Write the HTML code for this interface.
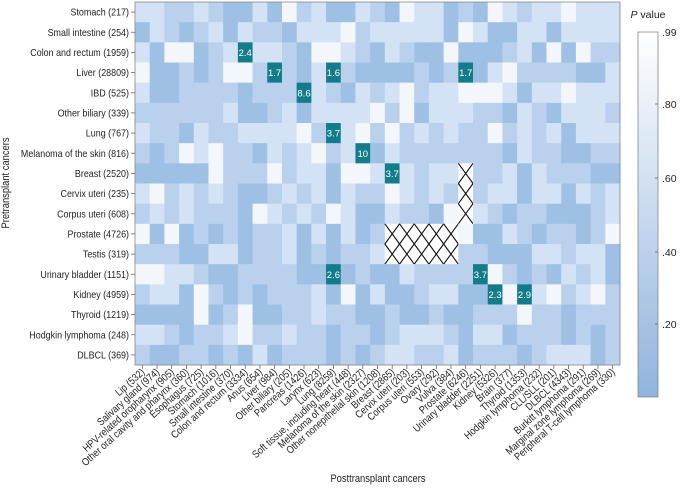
<!DOCTYPE html>
<html><head><meta charset="utf-8"><style>
body{margin:0;background:#fff;}
svg{display:block;font-family:"Liberation Sans",sans-serif;}
</style></head><body>
<svg id="s" width="680" height="489" xmlns="http://www.w3.org/2000/svg">
<defs>
<linearGradient id="cb" x1="0" y1="0" x2="0" y2="1">
<stop offset="0" stop-color="#ffffff"/><stop offset="1" stop-color="#8fb4de"/>
</linearGradient>
</defs>
<g id="cells"></g>
<rect x="135" y="2" width="485" height="363" fill="none" stroke="#888" stroke-width="0.8"/>
<g id="lab" font-size="10.5" fill="#222"></g>
<text class="c" x="9" y="183" font-size="11" transform="rotate(-90 9 183)" text-anchor="middle" fill="#222">Pretransplant cancers</text>
<text class="c" x="378" y="482" font-size="11" text-anchor="middle" fill="#222">Posttransplant cancers</text>
<text x="648" y="18" font-size="10.5" text-anchor="middle" fill="#222"><tspan font-style="italic">P</tspan> value</text>
<rect x="638" y="32" width="20" height="365" fill="url(#cb)" stroke="#888" stroke-width="0.8"/>
<g font-size="10.5" fill="#222">
<text x="662" y="36">.99</text><text x="662" y="108">.80</text><text x="662" y="182">.60</text><text x="662" y="256">.40</text><text x="662" y="328">.20</text>
</g>
<g stroke="#666" stroke-width="0.8">
<line x1="655" y1="104" x2="658" y2="104"/><line x1="655" y1="178" x2="658" y2="178"/><line x1="655" y1="252" x2="658" y2="252"/><line x1="655" y1="324" x2="658" y2="324"/>
</g>
</svg>
<script>
const R=[
[1,1,2,2,1,2,3,3,1,3,0,2,1,3,3,1,2,3,0,1,1,3,2,3,0,1,2,1,1,0,1,1,1],
[3,1,2,3,2,1,3,1,2,2,3,1,1,1,0,2,1,1,1,1,1,3,0,1,3,3,1,1,3,1,1,1,1],
[1,3,0,0,3,2,1,'2.4',1,1,2,3,0,0,1,2,3,1,2,3,3,0,3,3,3,2,1,3,0,3,0,2,2],
[0,3,3,2,3,2,0,0,2,'1.7',2,3,1,'1.6',2,3,3,3,3,2,3,2,'1.7',3,1,0,2,2,2,2,3,3,1],
[1,3,3,2,2,2,2,3,2,2,2,'8.6',1,2,3,1,2,1,0,2,1,1,0,0,0,1,3,1,1,0,1,1,1],
[2,2,2,2,2,2,1,3,3,2,1,3,1,1,1,1,0,2,0,3,1,1,1,2,2,3,1,2,3,1,1,1,2],
[1,2,2,3,1,2,2,1,1,1,1,0,2,'3.7',1,0,2,0,2,1,2,1,2,2,0,2,1,2,1,3,1,1,1],
[2,3,2,0,1,0,2,2,3,1,2,1,0,2,1,'10',3,1,2,2,2,2,2,2,2,3,1,2,2,3,3,2,2],
[3,3,3,3,3,0,2,2,2,0,2,1,1,3,0,0,1,'3.7',1,2,1,1,'H',2,2,1,3,1,2,2,2,3,3],
[1,0,2,1,2,1,2,3,3,2,1,2,1,3,1,2,2,0,1,2,1,2,'H',2,1,1,3,1,1,3,1,2,1],
[2,1,2,1,2,2,2,3,0,1,2,1,2,0,1,3,3,1,2,2,3,0,'H',1,2,3,2,2,3,3,3,2,1],
[0,3,0,3,2,3,2,3,2,2,1,3,1,3,1,3,2,'H','H','H','H','H',0,3,3,1,2,3,2,2,3,2,0],
[2,2,2,3,3,1,1,3,2,2,1,3,2,3,2,2,1,'H','H','H','H','H',2,2,3,3,3,1,1,2,1,1,3],
[0,0,1,1,2,3,3,2,2,2,2,3,3,'2.6',3,2,3,3,1,2,2,2,2,'3.7',0,2,3,2,3,1,2,1,3],
[2,1,1,3,0,2,3,2,3,2,2,2,1,3,0,3,1,3,3,2,1,1,3,3,'2.3',0,'2.9',1,0,2,1,0,2],
[3,3,3,3,0,3,2,0,3,3,2,2,1,2,2,3,3,2,3,3,2,3,3,2,2,2,0,2,2,3,2,2,2],
[1,1,2,3,2,2,1,0,2,2,1,2,2,3,2,2,3,2,1,1,1,2,3,1,1,3,2,2,2,3,2,3,2],
[2,3,3,2,2,3,2,3,1,3,2,2,2,3,2,3,2,1,1,2,2,1,3,2,2,2,3,2,1,1,1,3,2]];
const C=['#f3f7fc','#d3e3f5','#b9d1ed','#9fc0e5'];
const ylabs=["Stomach (217)","Small intestine (254)","Colon and rectum (1959)","Liver (28809)","IBD (525)","Other biliary (339)","Lung (767)","Melanoma of the skin (816)","Breast (2520)","Cervix uteri (235)","Corpus uteri (608)","Prostate (4726)","Testis (319)","Urinary bladder (1151)","Kidney (4959)","Thyroid (1219)","Hodgkin lymphoma (248)","DLBCL (369)"];
const xlabs=["Lip (532)","Salivary gland (974)","HPV-related oropharynx (905)","Other oral cavity and pharynx (360)","Esophagus (725)","Stomach (1016)","Small intestine (370)","Colon and rectum (3334)","Anus (654)","Liver (984)","Other biliary (205)","Pancreas (1426)","Larynx (623)","Lung (8259)","Soft tissue, including heart (448)","Melanoma of the skin (2327)","Other nonepithelial skin (1208)","Breast (2865)","Cervix uteri (203)","Corpus uteri (553)","Ovary (292)","Vulva (384)","Prostate (6246)","Urinary bladder (2251)","Kidney (5326)","Brain (377)","Thyroid (1353)","Hodgkin lymphoma (232)","CLL/SLL (201)","DLBCL (4343)","Burkitt lymphoma (291)","Marginal zone lymphoma (269)","Peripheral T-cell lymphoma (330)"];
const x0=135,y0=2,cw=485/33,rh=363/18;
let h='';
for(let r=0;r<18;r++)for(let c=0;c<33;c++){
 const v=R[r][c];const x=x0+c*cw,y=y0+r*rh;
 if(typeof v==='number'){h+=`<rect x="${x}" y="${y}" width="${cw+0.4}" height="${rh+0.4}" fill="${C[v]}"/>`;}
 else if(v==='H'){h+=`<rect x="${x}" y="${y}" width="${cw+0.4}" height="${rh+0.4}" fill="#fff"/><path d="M${x} ${y}L${x+cw} ${y+rh}M${x+cw} ${y}L${x} ${y+rh}" stroke="#111" stroke-width="1.1"/>`;}
 else {h+=`<rect x="${x}" y="${y}" width="${cw+0.4}" height="${rh+0.4}" fill="#137c8b"/><text x="${x+cw/2}" y="${y+rh/2+3.5}" font-size="9.5" fill="#fff" text-anchor="middle">${v}</text>`;}
}
document.getElementById('cells').innerHTML=h;
let l='';
ylabs.forEach((t,i)=>{const y=y0+(i+0.5)*rh;l+=`<text class="c" x="129" y="${y+3.5}" text-anchor="end">${t}</text><line x1="131" y1="${y}" x2="135" y2="${y}" stroke="#666" stroke-width="0.8"/>`;});
xlabs.forEach((t,i)=>{const x=x0+(i+0.5)*cw;l+=`<line x1="${x}" y1="365" x2="${x}" y2="369" stroke="#666" stroke-width="0.8"/><text class="c" x="${x+3}" y="373" text-anchor="end" transform="rotate(-42 ${x+3} 373)">${t}</text>`;});
document.getElementById('lab').innerHTML=l;
document.querySelectorAll('text.c').forEach(t=>{const w=t.getComputedTextLength();t.setAttribute('textLength',(w*0.85).toFixed(1));t.setAttribute('lengthAdjust','spacingAndGlyphs');});
</script>
</body></html>
